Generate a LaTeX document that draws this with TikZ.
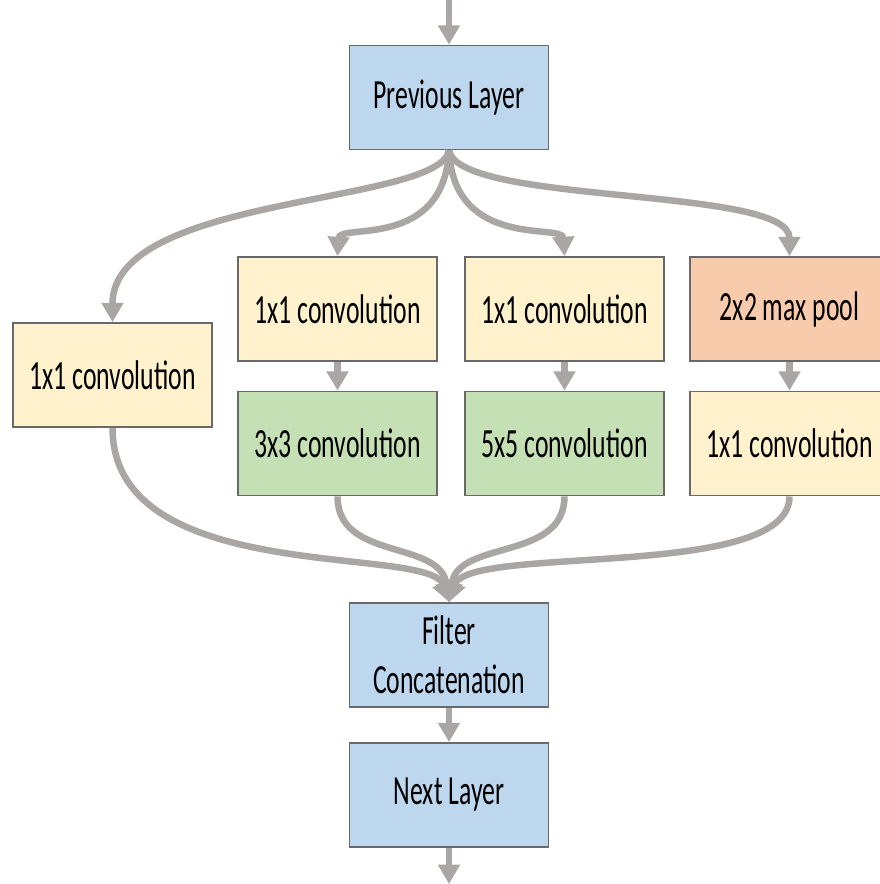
\documentclass[tikz,border=0pt]{standalone}
\usepackage{fontspec}
\setmainfont{Carlito}[FakeStretch=0.62]
\usetikzlibrary{arrows.meta}
\definecolor{layerblue}{RGB}{189,215,238}
\definecolor{convyellow}{RGB}{255,242,204}
\definecolor{convgreen}{RGB}{197,224,180}
\definecolor{poolorange}{RGB}{248,203,173}
\definecolor{edgegray}{RGB}{105,105,105}
\definecolor{flowgray}{RGB}{170,166,166}

\tikzset{
  blk/.style={draw=edgegray, line width=0.5pt, minimum width=1.99cm,
    minimum height=1.04cm, inner sep=0pt, align=center,
    font=\fontsize{11.8}{13.9}\selectfont},
  flow/.style={draw=flowgray, line width=1.85pt,
    -{Triangle[length=5.5pt,width=6pt]}},
}

\begin{document}
\begin{tikzpicture}[x=0.01cm, y=-0.01cm]
            \path[use as bounding box, clip] (0,0) rectangle (880,884);

            % layers in and out
            \node[blk, fill=layerblue] (prev) at (449,97.5) {Previous Layer};
            \node[blk, fill=layerblue] (concat) at (449,655) {Filter\\Concatenation};
            \node[blk, fill=layerblue] (next) at (449,795) {Next Layer};
            \coordinate (in) at (449,0);
            \coordinate (out) at (449,884);

            % the four branches
            \node[blk, fill=convyellow] (b1) at (112.5,375) {1x1 convolution};
            \node[blk, fill=convyellow] (b2a) at (337.5,309) {1x1 convolution};
            \node[blk, fill=convgreen] (b2b) at (337.5,443.5) {3x3 convolution};
            \node[blk, fill=convyellow] (b3a) at (564.5,309) {1x1 convolution};
            \node[blk, fill=convgreen] (b3b) at (564.5,443.5) {5x5 convolution};
            \node[blk, fill=poolorange] (b4a) at (789.5,309) {2x2 max pool};
            \node[blk, fill=convyellow] (b4b) at (789.5,443.5) {1x1 convolution};

            \draw[flow] (in) -- (prev);
            \draw[flow] (next) -- (out);
            \foreach \a/\b in {b2a/b2b, b3a/b3b, b4a/b4b, concat/next} {
                \draw[flow] (\a) -- (\b);
            }

            % split
            \draw[flow] (prev.south) .. controls +(-10,55) and +(0,-128) .. (b1.north);
            \draw[flow] (prev.south) .. controls +(-5,100) and +(2,-33) .. (b2a.north);
            \draw[flow] (prev.south) .. controls +(5,100) and +(-2,-33) .. (b3a.north);
            \draw[flow] (prev.south) .. controls +(10,55) and +(0,-70) .. (b4a.north);

            % merge
            \draw[flow] (b1.south) .. controls +(0,160) and +(-19,-58) .. (concat.north);
            \draw[flow] (b2b.south) .. controls +(0,65) and +(-9,-63) .. (concat.north);
            \draw[flow] (b3b.south) .. controls +(0,65) and +(9,-63) .. (concat.north);
            \draw[flow] (b4b.south) .. controls +(0,85) and +(19,-58) .. (concat.north);
        \end{tikzpicture}
\end{document}
